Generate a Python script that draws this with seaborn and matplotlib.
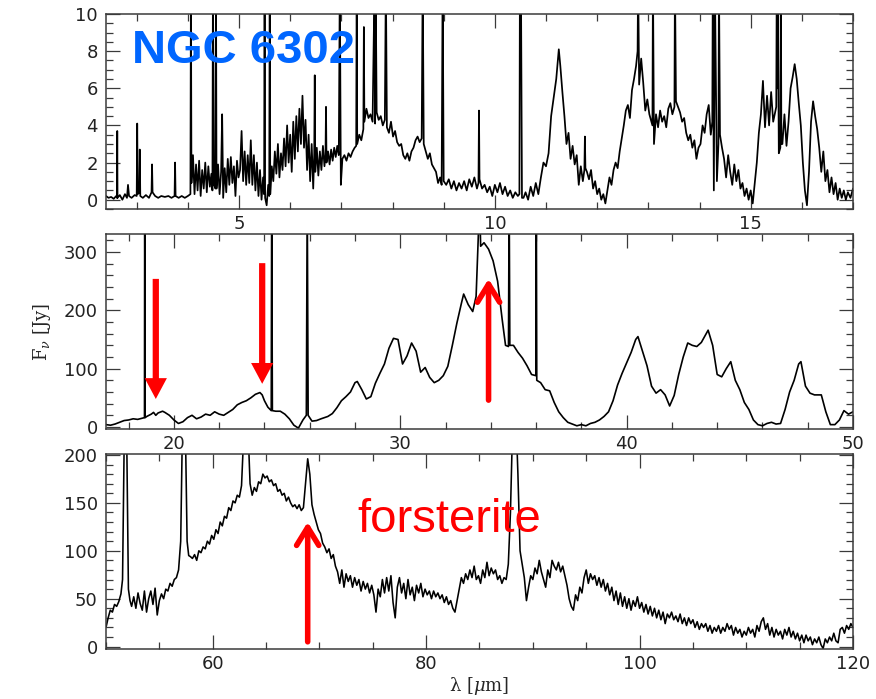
import matplotlib
matplotlib.use("Agg")
import matplotlib.pyplot as plt
from matplotlib.ticker import MultipleLocator
import seaborn as sns
import pandas as pd

# ---------------- data ----------------
# Panel 1: ISO-SWS short part, 2.4 - 17 micron, flux in Jy
top_wl = [2.40, 2.45, 2.50, 2.55, 2.60, 2.615, 2.62, 2.625, 2.67, 2.72, 2.77, 2.81, 2.83, 2.85, 2.90, 2.96,
          3.00, 3.01, 3.02, 3.05, 3.06, 3.07, 3.12, 3.18, 3.24, 3.29, 3.30, 3.31, 3.36, 3.42, 3.48, 3.55,
          3.62, 3.68, 3.74, 3.75, 3.76, 3.82, 3.88, 3.94, 4.00, 4.05, 4.06, 4.07, 4.10, 4.13, 4.16, 4.19,
          4.22, 4.25, 4.28, 4.31, 4.34, 4.37, 4.40, 4.43, 4.46, 4.48, 4.49, 4.51, 4.54, 4.55, 4.56, 4.59,
          4.62, 4.65, 4.67, 4.69, 4.72, 4.75, 4.78, 4.81, 4.84, 4.87, 4.90, 4.93, 4.96, 4.99, 5.02, 5.05,
          5.08, 5.11, 5.14, 5.17, 5.20, 5.23, 5.26, 5.29, 5.32, 5.35, 5.38, 5.41, 5.44, 5.47, 5.49, 5.50,
          5.51, 5.54, 5.57, 5.59, 5.60, 5.61, 5.64, 5.67, 5.70, 5.73, 5.76, 5.79, 5.82, 5.85, 5.88, 5.91,
          5.94, 5.97, 6.00, 6.03, 6.06, 6.09, 6.12, 6.15, 6.18, 6.21, 6.24, 6.27, 6.30, 6.33, 6.36, 6.39,
          6.42, 6.45, 6.47, 6.48, 6.49, 6.52, 6.55, 6.58, 6.61, 6.64, 6.67, 6.69, 6.70, 6.71, 6.74, 6.77,
          6.80, 6.83, 6.86, 6.89, 6.92, 6.95, 6.97, 6.99, 7.02, 7.06, 7.10, 7.14, 7.18, 7.22, 7.26, 7.29,
          7.30, 7.31, 7.35, 7.39, 7.43, 7.44, 7.45, 7.49, 7.53, 7.57, 7.61, 7.65, 7.66, 7.67, 7.69, 7.73,
          7.77, 7.81, 7.85, 7.87, 7.89, 7.93, 7.97, 8.01, 8.05, 8.09, 8.13, 8.17, 8.21, 8.25, 8.29, 8.33,
          8.37, 8.41, 8.45, 8.49, 8.53, 8.57, 8.59, 8.61, 8.65, 8.69, 8.73, 8.77, 8.81, 8.85, 8.89, 8.93,
          8.96, 8.98, 9.00, 9.05, 9.10, 9.15, 9.20, 9.25, 9.30, 9.35, 9.40, 9.45, 9.50, 9.55, 9.60, 9.65,
          9.68, 9.69, 9.70, 9.75, 9.80, 9.85, 9.90, 9.95, 10.00, 10.05, 10.10, 10.15, 10.20, 10.25, 10.30,
          10.35, 10.40, 10.45, 10.48, 10.49, 10.50, 10.51, 10.53, 10.56, 10.60, 10.65, 10.70, 10.75, 10.80,
          10.85, 10.90, 10.95, 11.00, 11.05, 11.10, 11.15, 11.20, 11.25, 11.28, 11.32, 11.36, 11.40, 11.44,
          11.48, 11.52, 11.56, 11.60, 11.64, 11.68, 11.72, 11.75, 11.76, 11.77, 11.80, 11.84, 11.88, 11.92,
          11.96, 12.00, 12.04, 12.08, 12.12, 12.16, 12.20, 12.24, 12.28, 12.32, 12.36, 12.40, 12.44, 12.48,
          12.52, 12.56, 12.60, 12.64, 12.68, 12.72, 12.76, 12.79, 12.80, 12.82, 12.86, 12.90, 12.94, 12.98,
          13.02, 13.06, 13.08, 13.09, 13.11, 13.15, 13.19, 13.23, 13.27, 13.31, 13.35, 13.39, 13.43, 13.47,
          13.51, 13.52, 13.54, 13.58, 13.62, 13.66, 13.70, 13.74, 13.78, 13.82, 13.86, 13.90, 13.94, 13.98,
          14.02, 14.06, 14.10, 14.14, 14.18, 14.22, 14.25, 14.26, 14.28, 14.30, 14.34, 14.37, 14.38, 14.40,
          14.44, 14.48, 14.52, 14.56, 14.60, 14.64, 14.68, 14.72, 14.76, 14.80, 14.84, 14.88, 14.92, 14.96,
          15.00, 15.04, 15.08, 15.12, 15.16, 15.20, 15.24, 15.28, 15.32, 15.36, 15.40, 15.44, 15.50, 15.51,
          15.52, 15.53, 15.55, 15.58, 15.59, 15.60, 15.62, 15.66, 15.70, 15.74, 15.78, 15.82, 15.86, 15.90,
          15.94, 15.98, 16.02, 16.06, 16.10, 16.14, 16.18, 16.22, 16.26, 16.30, 16.34, 16.38, 16.42, 16.46,
          16.50, 16.54, 16.58, 16.62, 16.66, 16.70, 16.74, 16.78, 16.82, 16.86, 16.90, 16.95, 17.00]
top_flux = [0.20, 0.10, 0.15, 0.05, 0.20, 0.10, 3.70, 0.10, 0.25, 0.00, 0.30, 0.10, 0.80, 0.20, 0.10, 0.25,
            0.20, 4.10, 0.30, 0.40, 2.70, 0.20, 0.10, 0.25, 0.10, 0.40, 1.90, 0.40, 0.20, 0.10, 0.20, 0.15,
            0.20, 0.10, 0.20, 2.00, 0.20, 0.10, 0.20, 0.10, 0.20, 0.30, 12.0, 0.90, 2.40, 0.30, 1.90, 0.50,
            2.10, 0.20, 1.60, 0.60, 2.00, 0.40, 1.80, 0.70, 1.40, 0.50, 12.0, 0.80, 0.60, 12.0, 0.60, 1.90,
            0.30, 1.50, 4.60, 0.10, 1.70, 0.40, 2.20, 0.80, 2.30, 0.90, 1.80, 0.20, 2.10, 1.20, 1.60, 3.70,
            1.00, 2.60, 0.80, 2.40, 0.90, 3.20, 0.80, 2.40, 0.50, 2.00, 0.20, 1.60, 0.00, 1.20, 0.30, 12.0,
            0.10, -0.30, 0.80, 0.20, 12.0, 0.30, 1.80, 1.00, 2.60, 1.40, 3.00, 1.20, 2.50, 1.60, 3.30, 1.80,
            4.00, 2.00, 3.50, 1.50, 4.20, 2.20, 4.50, 2.60, 4.90, 3.00, 5.60, 2.80, 4.30, 1.60, 3.50, 1.00,
            3.00, 0.60, 2.50, 6.70, 1.50, 2.80, 1.30, 2.60, 1.60, 2.90, 1.80, 2.40, 5.00, 2.00, 2.60, 1.90,
            2.70, 2.10, 2.80, 2.30, 2.90, 2.40, 12.0, 0.80, 2.20, 2.40, 2.10, 2.50, 2.30, 2.60, 2.80, 2.90,
            12.0, 3.00, 3.50, 3.20, 3.80, 9.30, 4.20, 4.90, 4.40, 4.60, 4.20, 12.0, 4.10, 12.0, 4.70, 4.30,
            4.50, 4.00, 4.30, 12.0, 3.90, 3.60, 4.20, 3.40, 3.70, 3.10, 2.90, 3.00, 2.40, 2.20, 2.50, 2.10,
            2.60, 2.80, 3.20, 3.40, 3.10, 3.30, 12.0, 3.00, 2.60, 2.20, 2.50, 1.90, 1.70, 1.50, 0.90, 1.20,
            0.80, 12.0, 1.00, 0.80, 1.10, 0.60, 1.00, 0.50, 0.90, 0.60, 1.00, 0.50, 1.10, 0.70, 1.20, 0.60,
            0.90, 4.80, 1.10, 0.60, 0.80, 0.40, 0.70, 0.20, 0.80, 0.40, 0.90, 0.30, 0.70, 0.20, 0.50,
            0.10, 0.40, 0.20, 0.30, 12.0, 8.00, 12.0, 0.10, 0.10, 0.40, 0.00, 0.70, 0.20, 0.90,
            0.30, 1.20, 2.00, 1.80, 2.50, 4.50, 5.50, 6.50, 8.10, 7.20, 5.80, 4.50, 3.00, 3.60,
            2.20, 2.90, 1.90, 2.40, 0.80, 1.80, 1.00, 1.60, 3.40, 1.70, 1.50, 1.10, 1.60, 0.60,
            1.00, 0.30, 0.60, 0.00, 0.30, -0.20, 0.50, 1.20, 0.80, 1.60, 2.00, 1.70, 2.60, 3.30,
            4.00, 4.80, 5.10, 4.40, 5.90, 6.50, 7.20, 8.00, 12.0, 6.20, 7.60, 6.30, 4.80, 5.40,
            4.60, 4.20, 4.00, 12.0, 3.00, 4.60, 3.90, 4.80, 4.20, 4.50, 3.90, 4.90, 5.20, 4.60,
            5.00, 12.0, 5.30, 5.00, 4.70, 4.20, 4.40, 3.60, 3.20, 3.50, 2.80, 3.20, 2.20, 2.80,
            3.00, 4.00, 3.60, 4.60, 5.10, 3.50, 4.20, 12.0, 0.50, 12.0, 1.00, 3.00, 12.0, 3.50,
            2.80, 2.20, 1.20, 2.40, 1.50, 0.80, 1.90, 1.00, 1.60, 0.60, 0.90, 0.20, 0.60, 0.00,
            0.50, -0.20, 0.90, 2.00, 3.60, 4.60, 6.40, 3.90, 5.60, 4.00, 5.80, 4.20, 5.00, 12.0,
            6.00, 12.0, 2.50, 2.80, 12.0, 3.00, 3.00, 4.60, 2.90, 4.20, 6.00, 6.60, 7.30, 6.50,
            5.20, 4.00, 2.00, 0.50, -0.30, 1.50, 4.20, 5.30, 4.50, 3.80, 2.80, 1.50, 2.60, 1.00,
            1.60, 0.40, 1.20, 0.30, 0.90, 0.00, 0.60, 0.10, 0.50, 0.00, 0.40, 0.10, 0.60]

# Panel 2: ISO-SWS long part, 17 - 50 micron
mid_wl = [17.0, 17.2, 17.4, 17.6, 17.8, 18.0, 18.2, 18.4, 18.6, 18.70, 18.71, 18.73, 18.8, 19.0, 19.1,
          19.2, 19.3, 19.5, 19.6, 19.8, 20.0, 20.2, 20.4, 20.6, 20.8, 21.0, 21.2, 21.4, 21.6, 21.8, 22.0,
          22.2, 22.4, 22.6, 22.8, 23.0, 23.2, 23.4, 23.6, 23.8, 23.9, 24.0, 24.15, 24.30, 24.32, 24.35,
          24.5, 24.7, 24.9, 25.1, 25.3, 25.5, 25.7, 25.85, 25.89, 25.93, 26.1, 26.3, 26.5, 26.8, 27.0,
          27.2, 27.4, 27.6, 27.8, 28.0, 28.1, 28.3, 28.5, 28.7, 28.9, 29.1, 29.3, 29.5, 29.7, 29.9, 30.1,
          30.3, 30.5, 30.7, 30.9, 31.1, 31.3, 31.5, 31.7, 31.9, 32.1, 32.3, 32.5, 32.7, 32.8, 33.0, 33.2,
          33.35, 33.45, 33.5, 33.55, 33.7, 33.9, 34.1, 34.3, 34.5, 34.65, 34.78, 34.81, 34.84, 35.0, 35.2,
          35.4, 35.6, 35.8, 35.99, 36.01, 36.03, 36.2, 36.4, 36.6, 36.8, 37.0, 37.2, 37.4, 37.6, 37.8,
          38.0, 38.2, 38.4, 38.6, 38.8, 39.0, 39.2, 39.4, 39.6, 39.8, 40.0, 40.2, 40.4, 40.5, 40.7, 40.9,
          41.1, 41.3, 41.5, 41.7, 41.9, 42.1, 42.3, 42.5, 42.7, 42.9, 43.1, 43.3, 43.6, 43.8, 44.0, 44.2,
          44.4, 44.6, 44.8, 45.0, 45.2, 45.4, 45.6, 45.8, 46.0, 46.2, 46.4, 46.6, 46.8, 47.0, 47.2, 47.4,
          47.6, 47.7, 47.9, 48.1, 48.3, 48.6, 48.8, 49.0, 49.2, 49.4, 49.6, 49.8, 50.0]
mid_flux = [4, 3, 5, 8, 11, 12, 14, 13, 15, 16, 400, 16, 18, 22, 25,
            20, 24, 27, 25, 20, 12, 6, 9, 16, 20, 14, 17, 22, 20, 26, 22,
            20, 25, 30, 38, 42, 45, 50, 56, 59, 55, 45, 34, 28, 400, 28,
            27, 27, 22, 14, 3, -2, 12, 20, 400, 20, 10, 11, 14, 18, 23,
            33, 45, 52, 60, 76, 78, 64, 48, 52, 75, 92, 108, 135, 152, 150, 108,
            122, 144, 130, 94, 102, 85, 76, 80, 88, 104, 140, 178, 212, 228, 210, 198,
            224, 330, 400, 310, 316, 305, 285, 250, 185, 140, 138, 400, 140, 140, 128,
            118, 105, 90, 88, 400, 80, 76, 64, 62, 42, 26, 16, 8, 5, 2,
            4, 2, 6, 8, 12, 18, 26, 45, 72, 92, 110, 128, 150, 155, 130, 105,
            70, 58, 64, 55, 36, 54, 90, 120, 144, 140, 138, 145, 166, 140, 90, 86,
            100, 112, 80, 64, 42, 30, 12, 4, 2, 6, 8, 5, 6, 30, 60, 80,
            108, 112, 70, 58, 55, 55, 26, 4, 4, 12, 28, 22, 26]

# Panel 3: ISO-LWS, 50 - 120 micron
bot_wl = [50.0, 50.2, 50.4, 50.6, 50.8, 51.0, 51.2, 51.4, 51.55, 51.7, 51.8, 51.95, 52.1, 52.25, 52.4,
          52.6, 52.8, 53.0, 53.2, 53.4, 53.6, 53.8, 54.0, 54.2, 54.4, 54.6, 54.8, 55.0, 55.2, 55.4, 55.6,
          55.8, 56.0, 56.2, 56.4, 56.6, 56.8, 57.0, 57.15, 57.3, 57.45, 57.6, 57.75, 57.9, 58.1, 58.3,
          58.5, 58.7, 58.9, 59.1, 59.3, 59.5, 59.7, 59.9, 60.1, 60.3, 60.5, 60.7, 60.9, 61.1, 61.3, 61.5,
          61.7, 61.9, 62.1, 62.3, 62.5, 62.7, 62.9, 63.1, 63.3, 63.5, 63.7, 63.9, 64.1, 64.3, 64.5, 64.7,
          64.9, 65.1, 65.3, 65.5, 65.7, 65.9, 66.1, 66.3, 66.5, 66.7, 66.9, 67.1, 67.3, 67.5, 67.7, 67.9,
          68.1, 68.3, 68.5, 68.7, 68.9, 69.1, 69.3, 69.5, 69.7, 69.9, 70.1, 70.3, 70.5, 70.7, 70.9, 71.1,
          71.3, 71.5, 71.7, 71.9, 72.1, 72.3, 72.5, 72.7, 72.9, 73.1, 73.3, 73.5, 73.7, 73.9, 74.1, 74.3,
          74.5, 74.7, 74.9, 75.1, 75.3, 75.5, 75.7, 75.9, 76.1, 76.3, 76.5, 76.7, 76.9, 77.1, 77.3, 77.5,
          77.7, 77.9, 78.1, 78.3, 78.5, 78.7, 78.9, 79.1, 79.3, 79.5, 79.7, 79.9, 80.1, 80.3, 80.5, 80.7,
          80.9, 81.1, 81.3, 81.5, 81.7, 81.9, 82.1, 82.3, 82.5, 82.7, 82.9, 83.1, 83.3, 83.5, 83.7, 83.9,
          84.1, 84.3, 84.5, 84.7, 84.9, 85.1, 85.3, 85.5, 85.7, 85.9, 86.1, 86.3, 86.5, 86.7, 86.9, 87.1,
          87.3, 87.5, 87.7, 87.9, 88.1, 88.3, 88.45, 88.6, 88.8, 89.0, 89.2, 89.4, 89.6, 89.8, 90.0, 90.2,
          90.4, 90.6, 90.8, 91.0, 91.2, 91.4, 91.6, 91.8, 92.0, 92.2, 92.4, 92.6, 92.8, 93.0, 93.2, 93.4,
          93.6, 93.8, 94.0, 94.2, 94.4, 94.6, 94.8, 95.0, 95.2, 95.4, 95.6, 95.8, 96.0, 96.2, 96.4, 96.6,
          96.8, 97.0, 97.2, 97.4, 97.6, 97.8, 98.0, 98.2, 98.4, 98.6, 98.8, 99.0, 99.2, 99.4, 99.6, 99.8,
          100.0, 100.2, 100.4, 100.6, 100.8, 101.0, 101.2, 101.4, 101.6, 101.8, 102.0, 102.2, 102.4, 102.6,
          102.8, 103.0, 103.2, 103.4, 103.6, 103.8, 104.0, 104.2, 104.4, 104.6, 104.8, 105.0, 105.2, 105.4,
          105.6, 105.8, 106.0, 106.2, 106.4, 106.6, 106.8, 107.0, 107.2, 107.4, 107.6, 107.8, 108.0, 108.2,
          108.4, 108.6, 108.8, 109.0, 109.2, 109.4, 109.6, 109.8, 110.0, 110.2, 110.4, 110.6, 110.8, 111.0,
          111.2, 111.4, 111.6, 111.8, 112.0, 112.2, 112.4, 112.6, 112.8, 113.0, 113.2, 113.4, 113.6, 113.8,
          114.0, 114.2, 114.4, 114.6, 114.8, 115.0, 115.2, 115.4, 115.6, 115.8, 116.0, 116.2, 116.4, 116.6,
          116.8, 117.0, 117.2, 117.4, 117.6, 117.8, 118.0, 118.2, 118.4, 118.6, 118.8, 119.0, 119.2, 119.4,
          119.6, 119.8, 120.0]
bot_flux = [20, 30, 38, 36, 44, 42, 47, 55, 70, 210, 260, 210, 60, 48, 42,
            52, 40, 56, 45, 38, 58, 36, 50, 58, 44, 61, 33, 48, 55, 50, 60,
            58, 66, 63, 70, 72, 80, 110, 220, 260, 220, 110, 95, 94, 92, 96,
            90, 100, 98, 104, 102, 110, 107, 116, 112, 122, 118, 130, 126, 136, 134, 145,
            142, 152, 150, 158, 156, 168, 220, 260, 230, 170, 158, 166, 162, 172, 170, 180,
            176, 178, 172, 174, 168, 170, 162, 164, 158, 160, 152, 156, 150, 146, 148, 144,
            148, 142, 145, 170, 196, 180, 148, 138, 130, 122, 118, 108, 104, 98, 102, 92,
            96, 84, 78, 66, 80, 62, 76, 68, 74, 62, 72, 64, 70, 58, 68, 60,
            66, 56, 64, 54, 36, 60, 52, 70, 56, 72, 58, 74, 46, 30, 62, 72,
            56, 66, 50, 70, 54, 62, 48, 64, 56, 66, 52, 60, 54, 58, 50, 58,
            52, 56, 50, 54, 46, 52, 44, 48, 40, 36, 48, 60, 72, 66, 76, 70,
            80, 72, 84, 70, 74, 66, 80, 72, 88, 74, 82, 76, 80, 70, 74, 66,
            72, 70, 86, 140, 230, 205, 230, 180, 100, 86, 72, 48, 62, 74, 70, 82,
            76, 90, 78, 70, 62, 80, 72, 90, 84, 80, 88, 78, 84, 74, 64, 50,
            42, 38, 54, 48, 62, 56, 72, 80, 66, 76, 70, 74, 64, 72, 62, 70,
            58, 66, 54, 62, 48, 58, 44, 56, 42, 52, 40, 50, 38, 48, 42, 52,
            40, 46, 36, 44, 34, 42, 32, 40, 30, 38, 28, 36, 24, 34,
            30, 36, 28, 32, 26, 34, 24, 30, 22, 30, 24, 28, 20, 26,
            18, 24, 20, 24, 16, 22, 14, 20, 16, 22, 14, 20, 16, 24,
            18, 22, 12, 20, 14, 18, 10, 16, 12, 20, 14, 18, 10, 22,
            16, 26, 30, 18, 24, 12, 20, 10, 18, 12, 16, 8, 18, 12,
            20, 10, 16, 8, 14, 6, 12, 4, 12, 6, 10, 2, 8, 4,
            10, 2, -2, 8, 4, 10, 6, 14, 6, 4, 18, 20, 14, 22,
            18, 24, 20]

# ---------------- style ----------------
sns.set_theme(style="ticks")
plt.rcParams.update({
    "font.family": ["DejaVu Sans"],
    "mathtext.fontset": "dejavuserif",
    "axes.edgecolor": "#3a3a3a",
    "axes.linewidth": 1.1,
    "xtick.color": "#3a3a3a",
    "ytick.color": "#3a3a3a",
    "xtick.labelcolor": "#222222",
    "ytick.labelcolor": "#222222",
})

W, H = 876, 699
fig = plt.figure(figsize=(W / 100, H / 100), dpi=100)


def box(l, t, r, b):
    return [l / W, 1 - b / H, (r - l) / W, (b - t) / H]


ax1 = fig.add_axes(box(106, 14, 853, 209))
ax2 = fig.add_axes(box(106, 234, 853, 429))
ax3 = fig.add_axes(box(106, 454, 853, 649))

panels = [
    (ax1, top_wl, top_flux, (2.4, 17.0), (-0.5, 10.0), 5, 1, 2, 0.5, 1.25),
    (ax2, mid_wl, mid_flux, (17.0, 50.0), (-3.5, 331), 10, 2, 100, 20, 1.2),
    (ax3, bot_wl, bot_flux, (50.0, 120.0), (-2.5, 201), 20, 5, 50, 10, 1.15),
]

for ax, wl, fl, xl, yl, xmaj, xmin, ymaj, ymin, lw in panels:
    df = pd.DataFrame({"wavelength": wl, "flux": fl})
    sns.lineplot(data=df, x="wavelength", y="flux", ax=ax, color="black",
                 linewidth=lw, estimator=None, sort=False)
    ax.set_xlim(*xl)
    ax.set_ylim(*yl)
    ax.xaxis.set_major_locator(MultipleLocator(xmaj))
    ax.xaxis.set_minor_locator(MultipleLocator(xmin))
    ax.yaxis.set_major_locator(MultipleLocator(ymaj))
    ax.yaxis.set_minor_locator(MultipleLocator(ymin))
    ax.tick_params(which="both", direction="in", top=True, right=True,
                   labeltop=False, labelright=False, width=0.9)
    ax.tick_params(which="major", length=10)
    ax.tick_params(which="minor", length=5)
    ax.tick_params(axis="x", which="major", pad=4, labelsize=13)
    ax.tick_params(axis="y", which="major", pad=6, labelsize=13)
    ax.set_xlabel("")
    ax.set_ylabel("")

ax2.set_ylabel(r"F$_\nu$ [Jy]", fontsize=13, family="DejaVu Serif", labelpad=8)
ax3.set_xlabel(r"$\mathrm{\lambda}$ [$\mu$m]", fontsize=13, family="DejaVu Serif", labelpad=2)

# ---------------- annotations ----------------
fig.text(132 / W, 1 - 63 / H, "NGC 6302", fontsize=34, fontweight="bold",
         color="#0066ff", family="Liberation Sans", va="baseline", ha="left")
fig.text(357 / W, 1 - 532 / H, "forsterite", fontsize=34, color="#ff0000",
         family="Liberation Sans", va="baseline", ha="left")

down_style = "simple,head_width=1.6,head_length=1.5,tail_width=0.45"
for ax, x, y0, y1 in [(ax2, 19.2, 254, 48), (ax2, 23.9, 281, 74)]:
    ax.annotate("", xy=(x, y1), xytext=(x, y0), annotation_clip=False,
                arrowprops=dict(arrowstyle=down_style, color="#ff0000", lw=0,
                                mutation_scale=10, shrinkA=0, shrinkB=0))

up_style = "->,head_length=0.65,head_width=0.4"
for ax, x, y0, y1 in [(ax2, 33.9, 46, 254), (ax3, 68.9, 5, 130)]:
    ax.annotate("", xy=(x, y1), xytext=(x, y0), annotation_clip=False,
                arrowprops=dict(arrowstyle=up_style, color="#ff0000", lw=4,
                                mutation_scale=20, shrinkA=0, shrinkB=0))

fig.savefig("out.png", dpi=100)
